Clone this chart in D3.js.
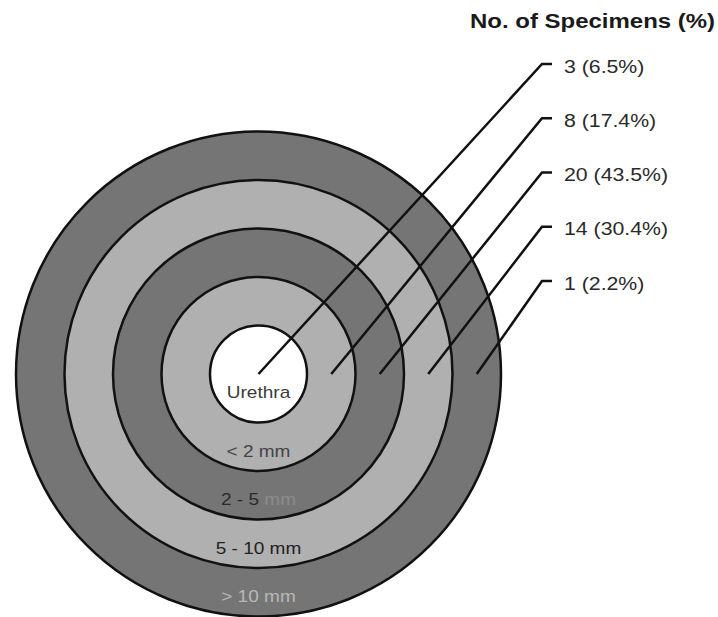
<!DOCTYPE html>
<html>
<head>
<meta charset="utf-8">
<script src="https://cdn.jsdelivr.net/npm/d3@7"></script>
<style>
  html, body { margin: 0; padding: 0; background: #fff; }
  svg { display: block; font-family: "Liberation Sans", Arial, sans-serif; }
</style>
</head>
<body>
<svg width="718" height="617"></svg>
<script>
  // zones from the urethra outwards
  var zones = ["Urethra", "< 2 mm", "2 - 5 mm", "5 - 10 mm", "> 10 mm"];
  var counts = [3, 8, 20, 14, 1];
  var percents = [6.5, 17.4, 43.5, 30.4, 2.2];
  var title = "No. of Specimens (%)";

  var svg = d3.select("svg"),
      cx = 258.5,
      cy = 374;

  var radius = d3.scaleLinear()
      .domain([0, zones.length])
      .range([0, 242.5]);

  // hook position of each label, top to bottom
  var labelY = d3.scaleLinear()
      .domain([0, zones.length - 1])
      .range([64, 281]);

  var fills = ["#ffffff", "#b0b0b0", "#757575", "#b0b0b0", "#757575"];
  var textColors = ["#3a3a3a", "#444444", "#2a2a2a", "#222222", "#b8b8b8"];

  var g = svg.append("g");

  // rings, biggest first so smaller ones sit on top
  var idx = d3.range(zones.length).reverse();
  g.selectAll("circle.ring")
      .data(idx)
      .enter().append("circle")
      .attr("class", "ring")
      .attr("cx", cx)
      .attr("cy", cy)
      .attr("r", function(i) { return radius(i + 1); })
      .attr("fill", function(i) { return fills[i]; })
      .attr("stroke", "#111")
      .attr("stroke-width", 2.5);

  // zone names, stretched a bit wider like the original
  var zoneText = g.selectAll("g.zone")
      .data(zones)
      .enter().append("g")
      .attr("class", "zone")
      .attr("transform", function(d, i) {
        var y = i === 0 ? cy + radius(0.5) : cy + radius(i + 0.5) + 10;
        return "translate(" + cx + "," + y + ") scale(1.12,1)";
      })
      .append("text")
      .attr("text-anchor", "middle")
      .attr("font-size", 17)
      .attr("fill", function(d, i) { return textColors[i]; });

  zoneText.each(function(d, i) {
    var t = d3.select(this);
    if (i === 2) {
      // "mm" is printed lighter than the numbers in this ring
      t.append("tspan").text("2 - 5");
      t.append("tspan").attr("fill", "#8c8c8c").text(" mm");
    } else {
      t.text(d);
    }
  });

  // leader lines from each zone up to its label
  var lineX = 542, hookX = 552, textX = 564;

  var startX = function(i) { return i === 0 ? cx : cx + radius(i + 0.5); };

  g.selectAll("path.leader")
      .data(zones)
      .enter().append("path")
      .attr("class", "leader")
      .attr("d", function(d, i) {
        return "M" + startX(i) + "," + cy +
               "L" + lineX + "," + labelY(i) +
               "L" + hookX + "," + labelY(i);
      })
      .attr("fill", "none")
      .attr("stroke", "#111")
      .attr("stroke-width", 2.5)
      .attr("stroke-linejoin", "miter");

  g.selectAll("g.label")
      .data(zones)
      .enter().append("g")
      .attr("class", "label")
      .attr("transform", function(d, i) {
        return "translate(" + textX + "," + (labelY(i) + 8.5) + ") scale(1.15,1)";
      })
      .append("text")
      .attr("font-size", 18.5)
      .attr("fill", "#2a2a2a")
      .text(function(d, i) { return counts[i] + " (" + percents[i].toFixed(1) + "%)"; });

  svg.append("g")
      .attr("transform", "translate(470,28) scale(1.23,1)")
      .append("text")
      .attr("font-size", 19.5)
      .attr("font-weight", "bold")
      .attr("fill", "#1a1a1a")
      .text(title);
</script>
</body>
</html>
